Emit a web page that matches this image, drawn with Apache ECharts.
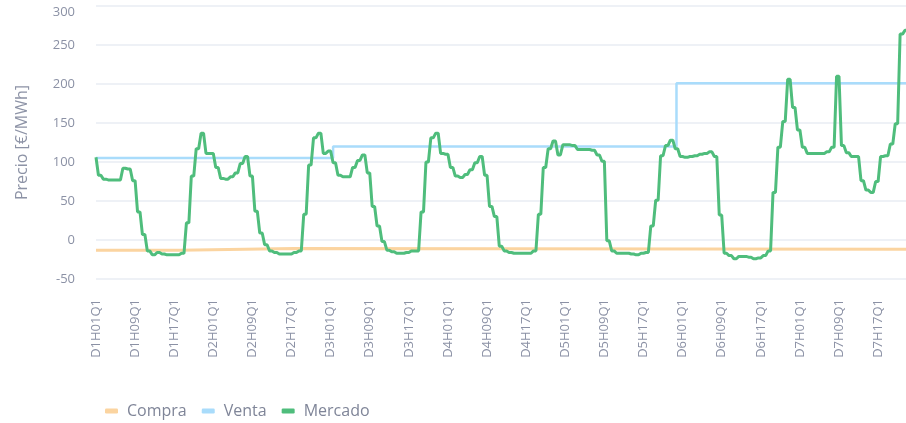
<!DOCTYPE html>
<html>
<head>
<meta charset="utf-8">
<script src="https://cdn.jsdelivr.net/npm/echarts@6/dist/echarts.min.js"></script>
<style>
  html, body { margin: 0; padding: 0; background: #ffffff; }
  #chart { width: 906px; height: 423px; }
</style>
</head>
<body>
<div id="chart"></div>
<script>
// Quarter-hour categories: day, hour (01-24), quarter (1-4)
const dias = ['D1', 'D2', 'D3', 'D4', 'D5', 'D6', 'D7'];
const horas = ['01','02','03','04','05','06','07','08','09','10','11','12','13','14','15','16','17','18','19','20','21','22','23','24'];
const cuartos = ['Q1', 'Q2', 'Q3', 'Q4'];
const categorias = [];
dias.forEach(d => horas.forEach(h => cuartos.forEach(q => categorias.push(d + 'H' + h + q))));

// Market price per quarter hour, one array per day (€/MWh)
const mercadoD1 = [106,106, 83,83,83,83, 78,78,78,78, 77,77,77,77, 77,77,77,77, 77,77,77,77, 92,92,92,92, 91,91,91,91, 76,76,76,76, 36,36,36,36, 7,7,7,7, -14,-14,-14,-14, -19,-19,-19,-19, -16,-16,-16,-16, -18,-18,-18,-18, -19,-19,-19,-19, -19,-19,-19,-19, -19,-19,-19,-19, -17,-17,-17,-17, 22,22,22,22, 82,82,82,82, 117,117,117,117, 137,137,137,137, 111,111,111,111, 111,111];
const mercadoD2 = [111,111, 93,93,93,93, 79,79,79,79, 78,78,78,78, 81,81,81,81, 86,86,86,86, 98,98,98,98, 107,107,107,107, 82,82,82,82, 37,37,37,37, 9,9,9,9, -6,-6,-6,-6, -14,-14,-14,-14, -16,-16,-16,-16, -18,-18,-18,-18, -18,-18,-18,-18, -18,-18,-18,-18, -16,-16,-16,-16, -14,-14,-14,-14, 33,33,33,33, 96,96,96,96, 131,131,131,131, 137,137,137,137, 111,111,111,111, 114,114];
const mercadoD3 = [114,114, 99,99,99,99, 83,83,83,83, 81,81,81,81, 81,81,81,81, 93,93,93,93, 102,102,102,102, 109,109,109,109, 86,86,86,86, 43,43,43,43, 18,18,18,18, -2,-2,-2,-2, -13,-13,-13,-13, -15,-15,-15,-15, -17,-17,-17,-17, -17,-17,-17,-17, -16,-16,-16,-16, -14,-14,-14,-14, -14,-14,-14,-14, 36,36,36,36, 100,100,100,100, 131,131,131,131, 137,137,137,137, 111,111,111,111, 110,110];
const mercadoD4 = [110,110, 93,93,93,93, 82,82,82,82, 80,80,80,80, 84,84,84,84, 90,90,90,90, 99,99,99,99, 107,107,107,107, 83,83,83,83, 43,43,43,43, 30,30,30,30, -8,-8,-8,-8, -14,-14,-14,-14, -16,-16,-16,-16, -17,-17,-17,-17, -17,-17,-17,-17, -17,-17,-17,-17, -17,-17,-17,-17, -14,-14,-14,-14, 33,33,33,33, 93,93,93,93, 117,117,117,117, 127,127,127,127, 109,109,109,109, 122,122];
const mercadoD5 = [122,122, 122,122,122,122, 121,121,121,121, 116,116,116,116, 116,116,116,116, 116,116,116,116, 115,115,115,115, 109,109,109,109, 101,101,101,101, -1,-1,-1,-1, -14,-14,-14,-14, -17,-17,-17,-17, -17,-17,-17,-17, -17,-17,-17,-17, -18,-18,-18,-18, -19,-19,-19,-19, -17,-17,-17,-17, -16,-16,-16,-16, 18,18,18,18, 51,51,51,51, 108,108,108,108, 121,121,121,121, 128,128,128,128, 117,117,117,117, 107,107];
const mercadoD6 = [107,107, 106,106,106,106, 107,107,107,107, 108,108,108,108, 110,110,110,110, 111,111,111,111, 113,113,113,113, 107,107,107,107, 32,32,32,32, -17,-17,-17,-17, -20,-20,-20,-20, -24,-24,-24,-24, -21,-21,-21,-21, -21,-21,-21,-21, -22,-22,-22,-22, -24,-24,-24,-24, -23,-23,-23,-23, -20,-20,-20,-20, -14,-14,-14,-14, 61,61,61,61, 119,119,119,119, 152,152,152,152, 206,206,206,206, 170,170,170,170, 141,141];
const mercadoD7 = [141,141, 119,119,119,119, 111,111,111,111, 111,111,111,111, 111,111,111,111, 111,111,111,111, 113,113,113,113, 119,119,119,119, 210,210,210,210, 121,121,121,121, 112,112,112,112, 107,107,107,107, 107,107,107,107, 76,76,76,76, 64,64,64,64, 61,61,61,61, 75,75,75,75, 107,107,107,107, 108,108,108,108, 123,123,123,123, 149,149,149,149, 264,264,264,264, 269,269,269,269, 272,272,272,272, 275,275];
const mercado = [].concat(mercadoD1, mercadoD2, mercadoD3, mercadoD4, mercadoD5, mercadoD6, mercadoD7);

// Buy / sell prices: each pair is [first quarter of the period, price]
const compraTramos = [['D1H01Q1', -13], ['D1H18Q1', -11], ['D2H17Q3', -12], ['D7H24Q4', -12]];
const ventaTramos = [['D1H01Q1', 105], ['D3H01Q3', 120], ['D5H23Q4', 201], ['D7H24Q4', 201]];

// Value axis ticks
const ticksY = [-50, 0, 50, 100, 150, 200, 250, 300];

const fuente = "'Open Sans', 'Noto Sans', sans-serif";
const grisTexto = '#8b91a5';

const chart = echarts.init(document.getElementById('chart'), null, { renderer: 'canvas' });
chart.setOption({
  animation: false,
  backgroundColor: '#ffffff',
  textStyle: { fontFamily: fuente },
  // the plot runs a little past the right edge of the page
  grid: { left: 96, width: 820, top: 6, bottom: 144, containLabel: false, outerBoundsMode: 'none' },
  legend: {
    data: ['Compra', 'Venta', 'Mercado'],
    left: 100,
    top: 398,
    icon: 'roundRect',
    itemWidth: 13,
    itemHeight: 5,
    itemGap: 15,
    textStyle: { fontSize: 16, color: '#7f8598', fontFamily: fuente, padding: [0, 0, 0, 4] }
  },
  xAxis: {
    type: 'category',
    data: categorias,
    boundaryGap: false,
    axisLine: { show: false },
    axisTick: { show: false },
    splitLine: { show: false },
    axisLabel: {
      rotate: 90,
      interval: 31,
      margin: 20,
      fontSize: 13,
      color: grisTexto,
      fontFamily: fuente
    }
  },
  yAxis: {
    type: 'value',
    min: ticksY[0],
    max: ticksY[ticksY.length - 1],
    interval: 50,
    name: 'Precio [€/MWh]',
    nameLocation: 'middle',
    nameGap: 66,
    nameTextStyle: { fontSize: 16, color: '#8d93a6', fontFamily: fuente },
    axisLine: { show: false },
    axisTick: { show: false },
    splitLine: { lineStyle: { color: '#e9ecf3', width: 1.5 } },
    axisLabel: {
      margin: 21,
      fontSize: 13,
      color: grisTexto,
      fontFamily: fuente,
      formatter: v => (v === ticksY[ticksY.length - 1] ? '{tope|' + v + '}' : String(v)),
      rich: { tope: { fontSize: 13, color: grisTexto, fontFamily: fuente, padding: [12, 0, 0, 0] } }
    }
  },
  series: [
    {
      name: 'Compra',
      type: 'line',
      step: 'end',
      data: compraTramos,
      showSymbol: false,
      silent: true,
      color: '#fbd4a0',
      lineStyle: { color: '#fbd4a0', width: 3 },
      z: 1
    },
    {
      name: 'Venta',
      type: 'line',
      step: 'end',
      data: ventaTramos,
      showSymbol: false,
      silent: true,
      color: '#a9dcfb',
      lineStyle: { color: '#a9dcfb', width: 2.5 },
      z: 2
    },
    {
      name: 'Mercado',
      type: 'line',
      data: mercado,
      showSymbol: false,
      silent: true,
      color: '#4fbd7c',
      lineStyle: { color: '#4fbd7c', width: 3 },
      z: 3
    }
  ]
});
</script>
</body>
</html>
